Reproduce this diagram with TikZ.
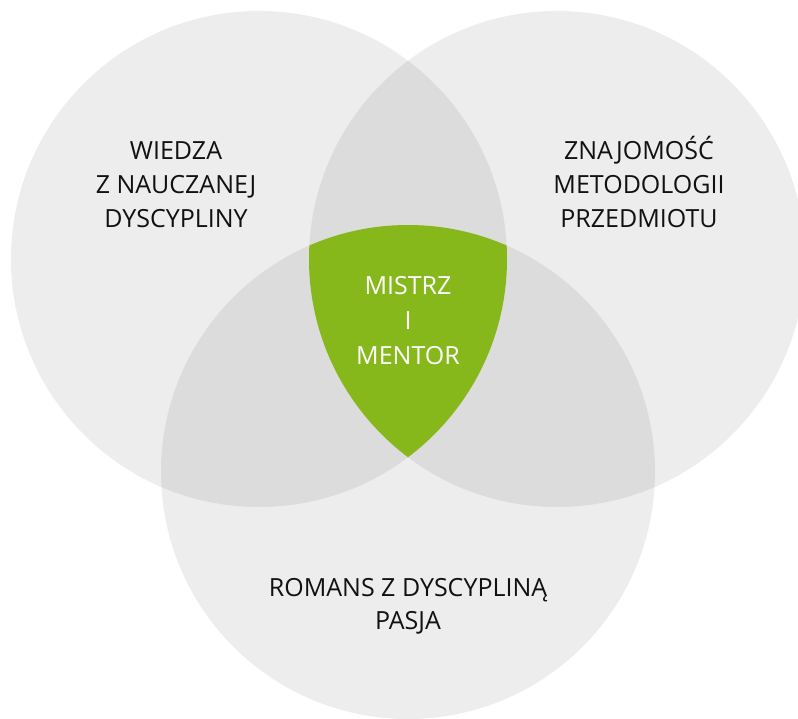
\documentclass[tikz,border=0pt]{standalone}
\usepackage{fontspec}
\setmainfont{Open Sans}
\definecolor{singlegray}{HTML}{EDEDED}
\definecolor{pairgray}{HTML}{DCDCDC}
\definecolor{mentorgreen}{HTML}{86B81B}
\definecolor{labeltext}{HTML}{111111}
\begin{document}
\begin{tikzpicture}[x=1pt,y=-1pt,
  lbl/.style={anchor=base,inner sep=0pt,font=\fontsize{25}{34}\selectfont,text=labeltext},
  lblw/.style={lbl,text=white}]
\useasboundingbox (0,0) rectangle (798,719);
\clip (0,0) rectangle (798,719);
\def\circA{(259,259) circle[radius=248pt]}
\def\circB{(557,259) circle[radius=248pt]}
\def\circC{(408,472) circle[radius=247pt]}
% single areas
\fill[singlegray] \circA;
\fill[singlegray] \circB;
\fill[singlegray] \circC;
% pairwise overlaps
\begin{scope}
  \clip \circA;
  \fill[pairgray] \circB;
  \fill[pairgray] \circC;
\end{scope}
\begin{scope}
  \clip \circB;
  \fill[pairgray] \circC;
\end{scope}
% triple overlap
\begin{scope}
  \clip \circA;
  \clip \circB;
  \fill[mentorgreen] \circC;
\end{scope}
% labels
\node[lbl] (a1) at (176,160) {WIEDZA};
\node[lbl] (a2) at (176,194) {Z NAUCZANEJ};
\node[lbl] (a3) at (176,228) {DYSCYPLINY};
\node[lbl] (b1) at (639,160) {ZNAJOMOŚĆ};
\node[lbl] (b2) at (639,194) {METODOLOGII};
\node[lbl] (b3) at (639,228) {PRZEDMIOTU};
\node[lblw] (m1) at (408,295) {MISTRZ};
\node[lblw] (m2) at (408,330) {I};
\node[lblw] (m3) at (408,364) {MENTOR};
\node[lbl] (c1) at (408,596) {ROMANS Z DYSCYPLINĄ};
\node[lbl] (c2) at (408,629) {PASJA};
\end{tikzpicture}
\end{document}
